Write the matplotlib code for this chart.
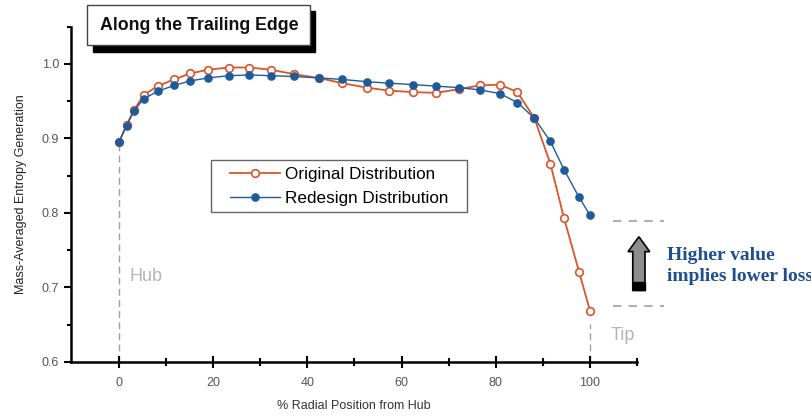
import matplotlib
matplotlib.use("Agg")
import matplotlib.pyplot as plt
from matplotlib.patches import Rectangle, FancyArrow

plt.rcParams['font.family'] = ['Liberation Sans', 'DejaVu Sans']

# radial stations (% span from hub)
radial_pos = [0, 1.6, 3.2, 5.2, 8.2, 11.7, 15.1, 18.9, 23.3, 27.7, 32.3, 37.2,
              42.4, 47.4, 52.6, 57.3, 62.5, 67.4, 72.2, 76.6, 80.9, 84.6,
              88.2, 91.6, 94.5, 97.7, 100]

original = [0.895, 0.918, 0.938, 0.958, 0.970, 0.979, 0.987, 0.992, 0.995,
            0.995, 0.992, 0.986, 0.981, 0.974, 0.968, 0.964, 0.962, 0.961,
            0.966, 0.971, 0.972, 0.962, 0.927, 0.866, 0.793, 0.721, 0.669]

redesign = [0.895, 0.917, 0.937, 0.953, 0.963, 0.971, 0.977, 0.981, 0.984,
            0.985, 0.984, 0.983, 0.981, 0.979, 0.976, 0.974, 0.972, 0.970,
            0.968, 0.965, 0.960, 0.948, 0.927, 0.896, 0.858, 0.821, 0.797]

x_ticks = [0, 20, 40, 60, 80, 100]
y_ticks = [0.6, 0.7, 0.8, 0.9, 1.0]

orange = '#d9562a'
blue = '#1f5b9c'
grey = '#a0a0a0'

W, H = 812, 417
fig = plt.figure(figsize=(W / 100, H / 100), dpi=100)
ax = fig.add_axes([71 / W, 1 - 362 / H, (637 - 71) / W, (362 - 26.5) / H])

ax.plot(radial_pos, original, '-o', color=orange, lw=1.3, ms=5.5,
        mfc='white', mec=orange, mew=1.2, label='Original Distribution', zorder=3)
ax.plot(radial_pos, redesign, '-o', color=blue, lw=1.0, ms=5.2,
        mfc=blue, mec=blue, label='Redesign Distribution', zorder=4)

ax.set_xlim(-10.2, 110)
ax.set_ylim(0.6, 1.05)
ax.set_xticks(x_ticks)
ax.set_yticks(y_ticks)
ax.set_yticklabels(['0.6', '0.7', '0.8', '0.9', '1.0'])
ax.set_xticks([10, 30, 50, 70, 90, 110], minor=True)
ax.set_yticks([0.65, 0.75, 0.85, 0.95, 1.05], minor=True)

for side in ('top', 'right'):
    ax.spines[side].set_visible(False)
ax.spines['left'].set_linewidth(1.8)
ax.spines['bottom'].set_linewidth(1.8)
ax.tick_params(axis='x', which='major', direction='inout', length=9, width=1.5,
               labelsize=9, labelcolor='#555555', pad=6)
ax.tick_params(axis='x', which='minor', direction='inout', length=6, width=1.5)
ax.tick_params(axis='y', which='major', direction='out', length=5, width=1.5,
               labelsize=9, labelcolor='#555555')
ax.tick_params(axis='y', which='minor', direction='out', length=3, width=1.5)

ax.set_xlabel('% Radial Position from Hub', fontsize=9, color='#333333', labelpad=8)
ax.set_ylabel('Mass-Averaged Entropy Generation', fontsize=9, color='#222222', labelpad=11)

# hub and tip markers
ax.plot([0, 0], [0.6, original[0]], ls=(0, (5, 3)), color=grey, lw=1.0, zorder=1)
ax.text(2.3, 0.715, 'Hub', color='#b5b5b5', fontsize=13, va='center', ha='left')
ax.plot([100, 100], [0.6, 0.651], ls=(0, (5, 3)), color=grey, lw=1.0, zorder=1)
ax.text(104.3, 0.636, 'Tip', color='#b5b5b5', fontsize=13, va='center', ha='left')

# span of tip improvement
for yv in (0.789, 0.675):
    ax.plot([105, 115.8], [yv, yv], ls=(0, (4, 3.5)), color='#b0b0b0', lw=1.5,
            clip_on=False)

arrow = FancyArrow(110.4, 0.696, 0, 0.072, width=2.6, head_width=4.6,
                   head_length=0.02, length_includes_head=True,
                   facecolor='#8c8c8c', edgecolor='black', lw=1.2, clip_on=False,
                   zorder=5)
ax.add_patch(arrow)
ax.add_patch(Rectangle((109.1, 0.696), 2.6, 0.011, facecolor='black',
                       edgecolor='black', clip_on=False, zorder=6))

fig.text(667 / W, 1 - 266 / H, 'Higher value\nimplies lower loss', color='#1f4f8f',
         fontsize=14, fontweight='bold', family=['Liberation Serif', 'DejaVu Serif'],
         ha='left', va='center', linespacing=1.3)

# legend entries without frame; the box is drawn separately for wider side padding
leg = ax.legend(loc='upper left', bbox_to_anchor=(230 / W, 1 - 167 / H),
                bbox_transform=fig.transFigure, fontsize=12.3, frameon=False,
                borderpad=0, handlelength=2.9, handletextpad=0.3, labelspacing=0.55,
                borderaxespad=0)
leg.set_zorder(8)
ax.add_patch(Rectangle((211 / W, 1 - 212 / H), 256 / W, 52 / H, transform=fig.transFigure,
                       facecolor='white', edgecolor='#666666', lw=1.0, zorder=7,
                       clip_on=False))

# title box with drop shadow
fig.patches.append(Rectangle((93 / W, 1 - 52 / H), 222 / W, 41 / H, transform=fig.transFigure,
                             facecolor='black', edgecolor='black', zorder=1))
fig.patches.append(Rectangle((87 / W, 1 - 45 / H), 223 / W, 40 / H, transform=fig.transFigure,
                             facecolor='white', edgecolor='#444444', lw=1.0, zorder=2))
fig.text(199 / W, 1 - 26 / H, 'Along the Trailing Edge', fontsize=12.8, fontweight='bold',
         ha='center', va='center', color='#111111', zorder=3)

fig.savefig('out.png', dpi=100)
